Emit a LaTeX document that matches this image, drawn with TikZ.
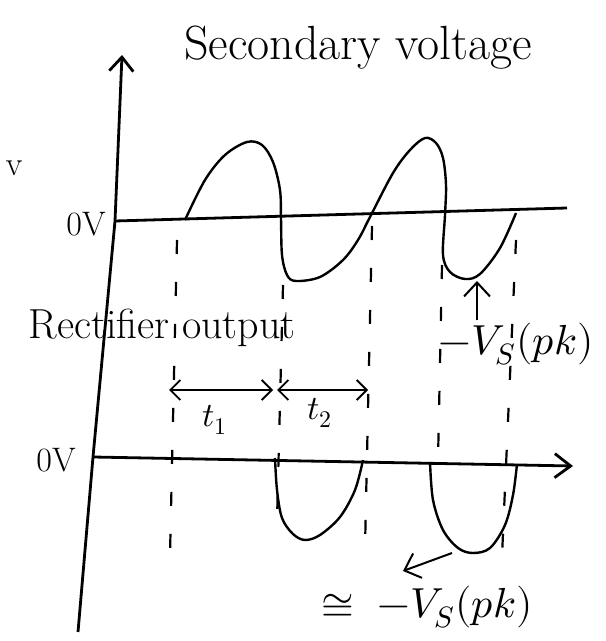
\documentclass[tikz,border=0pt]{standalone}
\usepackage{amsmath}
\usepackage{unicode-math}
\usepackage{tikz}
\usetikzlibrary{arrows.meta,positioning,calc}

\begin{document}
\begin{tikzpicture}[x=0.5pt, y=-0.5pt,
    axis/.style={line width=1.4pt, black, line join=round},
    wave/.style={line width=1.2pt, black, smooth, tension=0.55},
    guide/.style={line width=1.1pt, black, dash pattern=on 7pt off 14pt},
    tarr/.style={{Straight Barb[length=5pt, width=10pt]}-{Straight Barb[length=5pt, width=10pt]}, line width=0.9pt},
    pointer/.style={-{Straight Barb[length=7pt, width=13pt]}, line width=1pt},
    title/.style={font=\fontsize{24}{28}\selectfont, inner sep=1pt},
    lbl/.style={font=\fontsize{21}{25}\selectfont, inner sep=1pt},
    small/.style={font=\fontsize{17}{20}\selectfont, inner sep=1pt}
]
    \useasboundingbox (0,0) rectangle (605,641);
    % axes
    \coordinate (top) at (122,55);
    \coordinate (o1) at (115,221);
    \coordinate (o2) at (93,457);
    \coordinate (bot) at (78,632);
    \coordinate (e1) at (567,208);
    \coordinate (e2) at (573,466);
    \draw[axis, {Straight Barb[length=7pt, width=12pt]}-] (top) -- (o1) -- (o2) -- (bot);
    \draw[axis] (o1) -- (e1);
    \draw[axis, -{Straight Barb[length=8pt, width=12pt]}] (o2) -- (e2);
    \node[title] (sec) at (358,48) {Secondary voltage};
    \node[small] (v) at (14,168) {v};
    \node[small] (zero1) at (86,224) {0V};
    \node[small] (zero2) at (56,460) {0V};
    \node[lbl] (rect) at (162,328) {Rectifier output};
    % secondary voltage
    \draw[wave] plot coordinates {(185,220) (205,180) (225,155) (247,142) (262,145)
        (273,162) (280,190) (281,219) (282,255) (287,275) (296,281) (320,277)
        (343,260) (358,240) (370,217) (393,173) (410,150) (425,138) (436,143)
        (443,158) (446,185) (445,215) (443,255) (450,272) (465,279) (480,274)
        (500,248) (516,213)};
    % rectifier output
    \draw[wave] plot coordinates {(275,458) (277,490) (282,518) (293,534) (305,540)
        (320,535) (340,517) (355,490) (363,460)};
    \draw[wave] plot coordinates {(430,462) (433,500) (443,530) (458,548) (473,553)
        (490,548) (505,525) (513,495) (517,464)};
    % guide lines
    \draw[guide] (177,240) -- (170,555);
    \draw[guide] (283,285) -- (277,520);
    \draw[guide] (372,226) -- (365,548);
    \draw[guide] (442,265) -- (438,460);
    \draw[guide] (516,240) -- (502,556);
    % periods
    \coordinate (t1a) at (169,390);
    \coordinate (t1b) at (273,390);
    \coordinate (t2a) at (277,390);
    \coordinate (t2b) at (368,390);
    \draw[tarr] (t1a) -- (t1b);
    \draw[tarr] (t2a) -- (t2b);
    \node[small] (t1) at (215,420) {$t_1$};
    \node[small] (t2) at (320,413) {$t_2$};
    % peak labels
    \coordinate (trough) at (477,281);
    \node[lbl] (vspk) at (516,344) {$-V_S(pk)$};
    \draw[pointer] (vspk.north -| trough) -- (trough);
    \coordinate (low) at (452,553);
    \coordinate (tip) at (403,571);
    \node[lbl] (approx) at (427,607) {$\cong\;-V_S(pk)$};
    \draw[pointer] (low) -- (tip);
\end{tikzpicture}
\end{document}
